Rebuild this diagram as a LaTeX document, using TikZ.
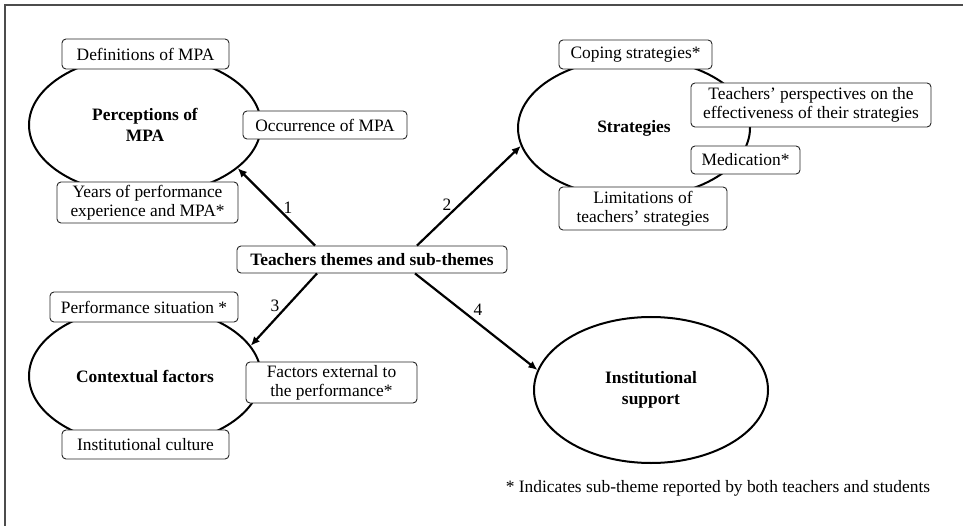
\documentclass[tikz,border=0pt]{standalone}
\usepackage{fontspec}
\setmainfont{Liberation Serif}
\usetikzlibrary{arrows.meta,shapes.geometric,calc}
\begin{document}
\begin{tikzpicture}[x=1pt,y=-1pt,
  every node/.style={font=\fontsize{17.4}{19}\selectfont},
  sub/.style={draw=black!85, line width=0.9pt, rounded corners=4pt, fill=white, inner sep=0pt, align=center},
  theme/.style={ellipse, draw=black, line width=2pt, inner sep=0pt, align=center, font=\fontsize{17.4}{21}\selectfont\bfseries},
  conn/.style={line width=2.2pt, -{Latex[length=9pt,width=8pt]}},
  num/.style={inner sep=0pt}
]
\useasboundingbox (0,0) rectangle (963,526);
\draw[black!70, line width=1.6pt] (5,526) -- (5,5) -- (963,5);

% theme ellipses
\node[theme, minimum width=232, minimum height=140] (perc) at (145,125) {Perceptions of\\MPA};
\node[theme, minimum width=232, minimum height=140] (strat) at (634,128) {Strategies};
\node[theme, minimum width=232, minimum height=140] (ctx) at (145,376) {Contextual factors};
\node[theme, minimum width=234, minimum height=146] (inst) at (651,390) {Institutional\\support};

% sub-theme boxes
\node[sub, minimum width=167, minimum height=30] (def) at (145.5,54) {Definitions of MPA};
\node[sub, minimum width=164, minimum height=28] (occ) at (325,125) {Occurrence of MPA};
\node[sub, minimum width=181, minimum height=41] (years) at (147.5,202.5) {Years of performance\\experience and MPA*};
\node[sub, minimum width=153, minimum height=29] (coping) at (635.5,54.5) {Coping strategies*};
\node[sub, minimum width=240, minimum height=44] (persp) at (811,105) {Teachers' perspectives on the\\effectiveness of their strategies};
\node[sub, minimum width=109, minimum height=28] (med) at (745.5,160) {Medication*};
\node[sub, minimum width=168, minimum height=43] (limit) at (643,208.5) {Limitations of\\teachers' strategies};
\node[sub, minimum width=188, minimum height=30] (perf) at (144,307) {Performance situation *};
\node[sub, minimum width=171, minimum height=41] (fact) at (331.5,382.5) {Factors external to\\the performance*};
\node[sub, minimum width=167, minimum height=29] (cult) at (145.5,444.5) {Institutional culture};

% central box
\node[sub, minimum width=270, minimum height=27, font=\fontsize{17.4}{19}\selectfont\bfseries] (central) at (372,259.5) {Teachers themes and sub-themes};

% connectors
\draw[conn] ($(central.north)+(-57,0)$) -- (perc.-25);
\draw[conn] ($(central.north)+(45,0)$) -- (strat.189);
\draw[conn] ($(central.south)+(-55,0)$) -- (ctx.16);
\draw[conn] ($(central.south)+(43,0)$) -- (inst.170);

\node[num] (n1) at (288,208) {1};
\node[num] (n2) at (447,205) {2};
\node[num] (n3) at (275,306) {3};
\node[num] (n4) at (478,310) {4};

\node (note) at (718,488) {* Indicates sub-theme reported by both teachers and students};
\end{tikzpicture}
\end{document}
